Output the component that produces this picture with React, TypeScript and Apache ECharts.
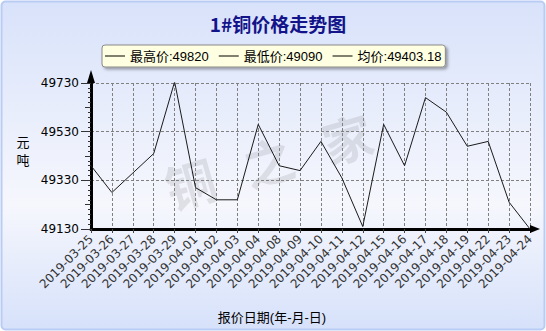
import React, { useEffect, useRef } from 'react';
import * as echarts from 'echarts';

const categories = [
  '2019-03-25', '2019-03-26', '2019-03-27', '2019-03-28', '2019-03-29',
  '2019-04-01', '2019-04-02', '2019-04-03', '2019-04-04', '2019-04-08',
  '2019-04-09', '2019-04-10', '2019-04-11', '2019-04-12', '2019-04-15',
  '2019-04-16', '2019-04-17', '2019-04-18', '2019-04-19', '2019-04-22',
  '2019-04-23', '2019-04-24',
];
const prices = [
  49390, 49280, 49360, 49440, 49735,
  49300, 49250, 49250, 49560, 49390,
  49370, 49490, 49340, 49140, 49560,
  49390, 49670, 49610, 49470, 49490,
  49240, 49130,
];
const yMin = 49130;
const yMax = 49730;
const yInterval = 200;
const legendNames = ['最高价:49820', '最低价:49090', '均价:49403.18'];
const titleText = '1#铜价格走势图';
const xAxisTitle = '报价日期(年-月-日)';
const yAxisTitle = ['元', '吨'];
const watermark = ['铜', '之', '家'];

export default function App() {
  const ref = useRef<HTMLDivElement>(null);
  useEffect(() => {
    document.body.style.margin = '0';
    const chart = echarts.init(ref.current!, null, { renderer: 'svg' });
    const cjk = 'Arial, "Liberation Sans", "Noto Sans CJK SC", sans-serif';
    const verdana = '"DejaVu Sans", Verdana, sans-serif';
    const wmPos = [[190, 182], [268, 160], [347, 137]];
    const option = {
      animation: false,
      tooltip: { show: false },
      graphic: [
        {
          type: 'rect', z: -10, silent: true,
          shape: { x: 1.5, y: 1.5, width: 543, height: 328, r: 4 },
          style: {
            fill: new echarts.graphic.LinearGradient(0, 0, 0, 1, [
              { offset: 0, color: '#d8e2fa' },
              { offset: 0.62, color: '#f6f7fd' },
              { offset: 1, color: '#d6e1fa' },
            ]),
            stroke: '#b9ccf4', lineWidth: 2,
          },
        },
        ...watermark.map((w, i) => ({
          type: 'text', z: -5, silent: true,
          x: wmPos[i][0], y: wmPos[i][1], rotation: 0.28,
          style: {
            text: w, fontSize: 50, fontWeight: 'bold', fontFamily: '"Noto Sans CJK SC"',
            fill: 'rgba(0,0,0,0.09)', align: 'center', verticalAlign: 'middle',
          },
        })),
        {
          type: 'text', x: 278, y: 23,
          style: {
            text: titleText, fontSize: 19, fontWeight: 'bold', fontFamily: '"Noto Sans CJK SC"',
            fill: '#14148a', align: 'center', verticalAlign: 'middle',
          },
        },
        {
          type: 'text', x: 272, y: 317,
          style: {
            text: xAxisTitle, fontSize: 13, fontFamily: cjk,
            fill: '#000', align: 'center', verticalAlign: 'middle',
          },
        },
        {
          type: 'text', x: 23, y: 142,
          style: { text: yAxisTitle[0], fontSize: 13, fontFamily: cjk, fill: '#000', align: 'center', verticalAlign: 'middle' },
        },
        {
          type: 'text', x: 20, y: 148, rotation: Math.PI / 2,
          style: { text: '/', fontSize: 7, fontFamily: cjk, fill: '#000', align: 'center', verticalAlign: 'middle' },
        },
        {
          type: 'text', x: 23, y: 160,
          style: { text: yAxisTitle[1], fontSize: 13, fontFamily: cjk, fill: '#000', align: 'center', verticalAlign: 'middle' },
        },
      ],
      legend: {
        data: legendNames.map((name) => ({ name, icon: 'rect' })),
        left: 102, top: 45,
        itemWidth: 20, itemHeight: 1, itemGap: 10,
        padding: [4, 4, 4, 3],
        backgroundColor: '#ffffe1',
        borderColor: '#8a8a8a', borderWidth: 1, borderRadius: 3,
        shadowColor: 'rgba(0,0,0,0.35)', shadowBlur: 3, shadowOffsetX: 2, shadowOffsetY: 2,
        itemStyle: { color: '#000' },
        textStyle: { fontSize: 13, fontFamily: cjk, color: '#000', lineHeight: 14 },
        selectedMode: false,
      },
      grid: { left: 91, right: 16, top: 83, bottom: 102 },
      xAxis: {
        type: 'category', data: categories, boundaryGap: false,
        axisLine: {
          show: true, lineStyle: { color: '#000', width: 3 },
          symbol: ['none', 'triangle'], symbolSize: [8, 10], symbolOffset: [0, 5],
        },
        axisTick: { show: true, length: 4, lineStyle: { color: '#444' } },
        axisLabel: { rotate: 45, interval: 0, fontSize: 12, fontFamily: verdana, color: '#333', margin: 8 },
        splitLine: { show: true, interval: 0, lineStyle: { color: '#808080', type: [3, 2], width: 1 } },
      },
      yAxis: [
        {
          type: 'value', min: yMin, max: yMax, interval: yInterval,
          axisLine: {
            show: true, lineStyle: { color: '#000', width: 3 },
            symbol: ['none', 'triangle'], symbolSize: [8, 13], symbolOffset: [0, 6.5],
          },
          axisTick: { show: true, length: 10, lineStyle: { color: '#333' } },
          minorTick: { show: true, splitNumber: 10, length: 3, lineStyle: { color: '#333' } },
          axisLabel: {
            fontSize: 12, fontFamily: verdana, color: '#000', margin: 12,
            formatter: (v: number) => String(v),
          },
          splitLine: { show: true, lineStyle: { color: '#808080', type: [3, 2], width: 1 } },
        },
        {
          type: 'value', min: yMin, max: yMax, interval: yInterval / 2, position: 'left', offset: 0,
          axisLine: { show: false },
          axisTick: { show: true, length: 6, lineStyle: { color: '#333' } },
          axisLabel: { show: false },
          splitLine: { show: false },
        },
      ],
      series: legendNames.map((name, i) => ({
        name, type: 'line', yAxisIndex: 0,
        data: i === 2 ? prices : [],
        symbol: 'none', showSymbol: false,
        lineStyle: { color: '#1a1a1a', width: 1 },
        itemStyle: { color: '#1a1a1a' },
        z: 3,
      })),
    };
    chart.setOption(option as any);
    return () => chart.dispose();
  }, []);
  return <div ref={ref} style={{ width: 546, height: 331 }} />;
}
